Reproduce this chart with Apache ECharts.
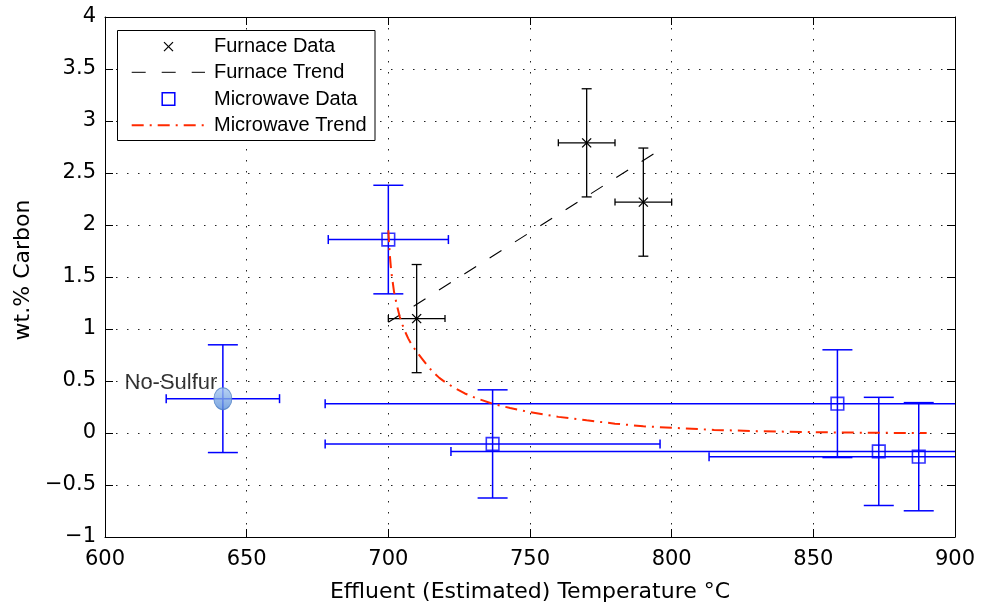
<!DOCTYPE html>
<html><head><meta charset="utf-8">
<script src="https://cdn.jsdelivr.net/npm/echarts@6/dist/echarts.min.js"></script>
<style>html,body{margin:0;padding:0;background:#fff}#c{width:981px;height:608px}</style>
</head><body><div id="c"></div>
<script>
// ---- data ----
const xMin = 600, xMax = 900, xStep = 50;
const yMin = -1, yMax = 4, yStep = 0.5;

const furnaceX = [710, 770, 790];
const furnaceY = [1.10, 2.79, 2.22];
const furnaceXErr = [10, 10, 10];
const furnaceYErr = [0.52, 0.52, 0.52];

const furnaceTrendX = [700, 796];
const furnaceTrendY = [1.065, 2.725];

const microX = [700, 736.8, 858.5, 873.1, 887.2];
const microY = [1.86, -0.105, 0.282, -0.177, -0.228];
const microXErr = [21.2, 59.1, 180.8, 151, 74];
const microYErr = [0.522, 0.52, 0.518, 0.52, 0.52];

const microTrendX = [700, 700.5, 701, 702, 703, 704, 705, 706, 707, 708, 710, 712, 714, 716, 718, 720, 723, 727, 731, 737, 743, 750, 760, 770, 780, 790, 800, 815, 830, 850, 870, 890];
const microTrendY = [1.95, 1.72, 1.56, 1.36, 1.23, 1.12, 1.04, 0.97, 0.91, 0.86, 0.78, 0.71, 0.64, 0.58, 0.53, 0.49, 0.44, 0.38, 0.335, 0.28, 0.24, 0.20, 0.155, 0.122, 0.09, 0.065, 0.05, 0.03, 0.018, 0.008, 0.002, 0.0];

const noSulfurX = [641.6];
const noSulfurY = [0.33];
const noSulfurXErr = [20];
const noSulfurYErr = [0.518];
const noSulfurLabel = 'No-Sulfur';

const legendNames = ['Furnace Data', 'Furnace Trend', 'Microwave Data', 'Microwave Trend'];
const xTitle = 'Effluent (Estimated) Temperature °C';
const yTitle = 'wt.% Carbon';

// ---- helpers ----
const zip4 = (a, b, c, d) => a.map((v, i) => [v, b[i], c[i], d[i]]);
const zip2 = (a, b) => a.map((v, i) => [v, b[i]]);

function errorBarRender(color, lw, capV, capH) {
  return function (params, api) {
    const x = api.value(0), y = api.value(1), xe = api.value(2), ye = api.value(3);
    const l = api.coord([x - xe, y]), r = api.coord([x + xe, y]);
    const t = api.coord([x, y + ye]), b = api.coord([x, y - ye]);
    const style = { stroke: color, lineWidth: lw, fill: null };
    const ln = (x1, y1, x2, y2) => ({ type: 'line', shape: { x1, y1, x2, y2 }, style });
    return {
      type: 'group', children: [
        ln(l[0], l[1], r[0], r[1]),
        ln(l[0], l[1] - capH, l[0], l[1] + capH),
        ln(r[0], r[1] - capH, r[0], r[1] + capH),
        ln(t[0], t[1], b[0], b[1]),
        ln(t[0] - capV, t[1], t[0] + capV, t[1]),
        ln(b[0] - capV, b[1], b[0] + capV, b[1])
      ]
    };
  };
}
function xMarkRender(color, half, lw) {
  return function (params, api) {
    const c = api.coord([api.value(0), api.value(1)]);
    const style = { stroke: color, lineWidth: lw, fill: null };
    return {
      type: 'group', children: [
        { type: 'line', shape: { x1: c[0] - half, y1: c[1] - half, x2: c[0] + half, y2: c[1] + half }, style },
        { type: 'line', shape: { x1: c[0] - half, y1: c[1] + half, x2: c[0] + half, y2: c[1] - half }, style }
      ]
    };
  };
}

const tickFont = { fontFamily: 'DejaVu Sans', fontSize: 21, color: '#000' };
const fmt = v => String(v).replace('-', '\u2212');
const dotted = { show: true, lineStyle: { color: '#222', width: 1, type: [1.5, 9.5] } };

// ---- legend drawn as graphic ----
const L = { x: 117.5, y: 30.5, w: 257.5, h: 110, rowY: [46.7, 72.3, 99, 125.3], iconX0: 131.7, iconX1: 205, iconC: 168.5, textX: 214 };
const legendGraphics = [
  { type: 'rect', shape: { x: L.x, y: L.y, width: L.w, height: L.h }, style: { fill: '#fff', stroke: '#000', lineWidth: 1 }, z: 100 },
  { type: 'line', shape: { x1: L.iconC - 4.5, y1: L.rowY[0] - 4.5, x2: L.iconC + 4.5, y2: L.rowY[0] + 4.5 }, style: { stroke: '#000', lineWidth: 1.2 }, z: 101 },
  { type: 'line', shape: { x1: L.iconC - 4.5, y1: L.rowY[0] + 4.5, x2: L.iconC + 4.5, y2: L.rowY[0] - 4.5 }, style: { stroke: '#000', lineWidth: 1.2 }, z: 101 },
  { type: 'line', shape: { x1: L.iconX0, y1: L.rowY[1], x2: L.iconX1, y2: L.rowY[1] }, style: { stroke: '#000', lineWidth: 1, lineDash: [14, 16] }, z: 101 },
  { type: 'rect', shape: { x: L.iconC - 6.3, y: L.rowY[2] - 6.3, width: 12.6, height: 12.6 }, style: { fill: null, stroke: '#0000ff', lineWidth: 1.5 }, z: 101 },
  { type: 'line', shape: { x1: L.iconX0, y1: L.rowY[3], x2: L.iconX1, y2: L.rowY[3] }, style: { stroke: '#ff2a00', lineWidth: 2, lineDash: [12, 6, 2, 6] }, z: 101 }
].concat(legendNames.map((n, i) => ({
  type: 'text', x: L.textX, y: L.rowY[i], z: 101,
  style: { text: n, fill: '#000', font: '20px "Liberation Sans"', verticalAlign: 'middle', align: 'left' }
})));

const chart = echarts.init(document.getElementById('c'), null, { renderer: 'canvas' });
chart.setOption({
  animation: false,
  backgroundColor: '#fff',
  grid: { left: 105, right: 26, top: 17, bottom: 71 },
  xAxis: [{
    type: 'value', min: xMin, max: xMax, interval: xStep, position: 'bottom',
    axisLine: { show: true, onZero: false, lineStyle: { color: '#000', width: 1 } },
    axisTick: { show: true, inside: true, length: 8, lineStyle: { color: '#000' } },
    axisLabel: Object.assign({ margin: 12, formatter: fmt }, tickFont),
    splitLine: dotted,
    name: xTitle, nameLocation: 'middle', nameGap: 44,
    nameTextStyle: { fontFamily: 'DejaVu Sans', fontSize: 22, color: '#000' }
  }, {
    type: 'value', min: xMin, max: xMax, interval: xStep, position: 'top',
    axisLine: { show: true, onZero: false, lineStyle: { color: '#000', width: 1 } },
    axisTick: { show: true, inside: true, length: 8, lineStyle: { color: '#000' } },
    axisLabel: { show: false }, splitLine: { show: false }
  }],
  yAxis: [{
    type: 'value', min: yMin, max: yMax, interval: yStep, position: 'left',
    axisLine: { show: true, onZero: false, lineStyle: { color: '#000', width: 1 } },
    axisTick: { show: true, inside: true, length: 8, lineStyle: { color: '#000' } },
    axisLabel: Object.assign({ margin: 9, formatter: fmt }, tickFont),
    splitLine: dotted,
    name: yTitle, nameLocation: 'middle', nameGap: 70, nameRotate: 90,
    nameTextStyle: { fontFamily: 'DejaVu Sans', fontSize: 22, color: '#000', padding: [0, 0, 0, 14] }
  }, {
    type: 'value', min: yMin, max: yMax, interval: yStep, position: 'right',
    axisLine: { show: true, onZero: false, lineStyle: { color: '#000', width: 1 } },
    axisTick: { show: true, inside: true, length: 8, lineStyle: { color: '#000' } },
    axisLabel: { show: false }, splitLine: { show: false }
  }],
  graphic: legendGraphics,
  series: [
    {
      name: 'Microwave Errors', type: 'custom', clip: true, z: 2,
      renderItem: errorBarRender('#0000ff', 1.5, 15, 4.5),
      encode: { x: 0, y: 1 },
      data: zip4(microX, microY, microXErr, microYErr)
    },
    {
      name: 'No-Sulfur Errors', type: 'custom', clip: true, z: 2,
      renderItem: errorBarRender('#0000ff', 1.5, 15, 4.5),
      encode: { x: 0, y: 1 },
      data: zip4(noSulfurX, noSulfurY, noSulfurXErr, noSulfurYErr)
    },
    {
      name: 'Furnace Errors', type: 'custom', clip: true, z: 3,
      renderItem: errorBarRender('#000', 1.3, 5, 3.5),
      encode: { x: 0, y: 1 },
      data: zip4(furnaceX, furnaceY, furnaceXErr, furnaceYErr)
    },
    {
      name: 'Microwave Data', type: 'scatter', z: 4,
      symbol: 'rect', symbolSize: 12.6,
      itemStyle: { color: 'rgba(0,0,0,0)', borderColor: '#0000ff', borderWidth: 1.6 },
      data: zip2(microX, microY)
    },
    {
      name: 'No-Sulfur', type: 'scatter', z: 4,
      symbol: 'circle', symbolSize: [18, 22],
      itemStyle: {
        color: new echarts.graphic.LinearGradient(0, 0, 0, 1, [
          { offset: 0, color: '#a8c8f2' }, { offset: 1, color: '#5a8fd8' }
        ]),
        borderColor: '#4f7fc4', borderWidth: 1
      },
      label: {
        show: true, position: 'left', distance: 0, offset: [4, -16],
        formatter: () => noSulfurLabel,
        fontFamily: 'Liberation Sans', fontSize: 22, color: '#000', textBorderWidth: 0
      },
      data: zip2(noSulfurX, noSulfurY)
    },
    {
      name: 'Furnace Data', type: 'custom', z: 5,
      renderItem: xMarkRender('#000', 4.5, 1.3),
      encode: { x: 0, y: 1 },
      data: zip2(furnaceX, furnaceY)
    },
    {
      name: 'Furnace Trend', type: 'line', z: 5,
      symbol: 'none', lineStyle: { color: '#000', width: 1.1, type: [14, 16] },
      data: zip2(furnaceTrendX, furnaceTrendY)
    },
    {
      name: 'Microwave Trend', type: 'line', z: 6,
      symbol: 'none', smooth: false,
      lineStyle: { color: '#ff2a00', width: 2, type: [12, 6, 2, 6] },
      data: zip2(microTrendX, microTrendY)
    }
  ]
});
</script>
</body></html>
